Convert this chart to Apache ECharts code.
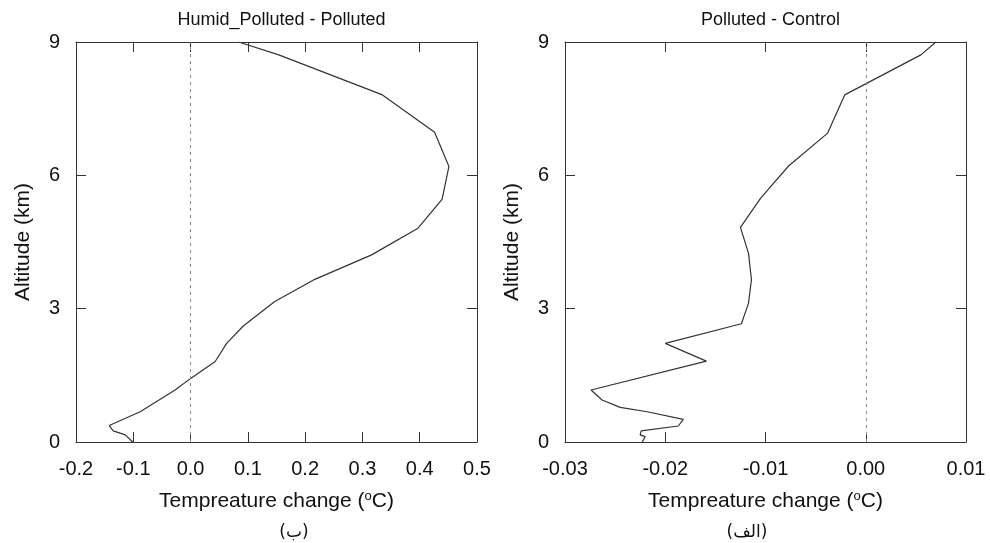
<!DOCTYPE html>
<html>
<head>
<meta charset="utf-8">
<script src="https://cdn.jsdelivr.net/npm/echarts@6/dist/echarts.min.js"></script>
<style>
  html, body { margin: 0; padding: 0; background: #fff; }
  #chart { width: 990px; height: 543px; }
</style>
</head>
<body>
<div id="chart"></div>
<script>
// left panel: Humid_Polluted - Polluted
const leftAlt = [0.0, 0.16, 0.25, 0.37, 0.68, 1.17, 1.42, 1.81, 2.22, 2.61, 3.16, 3.66, 4.21, 4.81, 5.46, 6.20, 6.97, 7.81, 8.71, 9.0];
const leftTemp = [-0.101, -0.114, -0.135, -0.142, -0.088, -0.027, -0.001, 0.043, 0.063, 0.092, 0.147, 0.217, 0.316, 0.397, 0.439, 0.451, 0.426, 0.335, 0.154, 0.084];

// right panel: Polluted - Control
const rightAlt = [0.0, 0.12, 0.16, 0.25, 0.36, 0.51, 0.68, 0.78, 0.945, 1.17, 1.82, 2.22, 2.66, 3.12, 3.65, 4.25, 4.83, 5.48, 6.21, 6.95, 7.81, 8.71, 9.0];
const rightTemp = [-0.0223, -0.0220, -0.0225, -0.0224, -0.0187, -0.0182, -0.0218, -0.0245, -0.0263, -0.0274, -0.0159, -0.0200, -0.0124, -0.0117, -0.0114, -0.0117, -0.0125, -0.0105, -0.0077, -0.0038, -0.0021, 0.0055, 0.0070];

const titles = ['Humid_Polluted - Polluted', 'Polluted - Control'];
const captions = ['(ب)', '(الف)'];

const FONT = '"Liberation Sans", Arial, sans-serif';
const AXIS_COLOR = '#333';
const TEXT_COLOR = '#111';

const chart = echarts.init(document.getElementById('chart'));

const grids = [
  { left: 76, top: 42, width: 401, height: 400 },
  { left: 565, top: 42, width: 401, height: 400 }
];

const xRanges = [
  { min: -0.2, max: 0.5, interval: 0.1, digits: 1 },
  { min: -0.03, max: 0.01, interval: 0.01, digits: 2 }
];

const axisLine = { show: true, onZero: false, lineStyle: { color: AXIS_COLOR, width: 1 } };
const axisTick = { show: true, inside: true, length: 10, lineStyle: { color: AXIS_COLOR, width: 1 } };

const xAxes = [];
const yAxes = [];
[0, 1].forEach((g) => {
  const r = xRanges[g];
  xAxes.push({
    type: 'value', gridIndex: g, position: 'bottom',
    min: r.min, max: r.max, interval: r.interval,
    axisLine, axisTick, splitLine: { show: false },
    axisLabel: {
      fontFamily: FONT, fontSize: 20, color: TEXT_COLOR, margin: 17,
      formatter: (v) => (Math.abs(v) < 1e-9 ? 0 : v).toFixed(r.digits)
    },
    name: 'Tempreature change ({sup|o}C)',
    nameLocation: 'middle', nameGap: 48,
    nameTextStyle: {
      fontFamily: FONT, fontSize: 21, color: TEXT_COLOR,
      rich: { sup: { fontFamily: FONT, fontSize: 13, color: TEXT_COLOR, verticalAlign: 'top', padding: [0, 0, 10, 0] } }
    }
  });
  xAxes.push({
    type: 'value', gridIndex: g, position: 'top',
    min: r.min, max: r.max, interval: r.interval,
    axisLine, axisTick, splitLine: { show: false }, axisLabel: { show: false }
  });
  yAxes.push({
    type: 'value', gridIndex: g, position: 'left',
    min: 0, max: 9, interval: 3,
    axisLine, axisTick, splitLine: { show: false },
    axisLabel: { fontFamily: FONT, fontSize: 20, color: TEXT_COLOR, margin: 16 },
    name: 'Altitude (km)', nameLocation: 'middle', nameGap: 42,
    nameTextStyle: { fontFamily: FONT, fontSize: 21, color: TEXT_COLOR }
  });
  yAxes.push({
    type: 'value', gridIndex: g, position: 'right',
    min: 0, max: 9, interval: 3,
    axisLine, axisTick, splitLine: { show: false }, axisLabel: { show: false }
  });
});

const zeroLine = {
  silent: true, symbol: 'none', animation: false,
  label: { show: false },
  lineStyle: { color: '#888', type: [3, 4], width: 1 },
  data: [{ xAxis: 0 }]
};

const pairs = (xs, ys) => xs.map((x, i) => [x, ys[i]]);

const option = {
  animation: false,
  backgroundColor: '#fff',
  title: titles.map((t, i) => ({
    text: t,
    left: grids[i].left + grids[i].width / 2,
    top: 6,
    textAlign: 'center',
    textStyle: { fontFamily: FONT, fontSize: 18, fontWeight: 'normal', color: TEXT_COLOR }
  })),
  grid: grids,
  xAxis: xAxes,
  yAxis: yAxes,
  series: [
    {
      type: 'line', xAxisIndex: 0, yAxisIndex: 0,
      data: pairs(leftTemp, leftAlt),
      showSymbol: false, lineStyle: { color: '#333', width: 1.2 },
      markLine: zeroLine
    },
    {
      type: 'line', xAxisIndex: 2, yAxisIndex: 2,
      data: pairs(rightTemp, rightAlt),
      showSymbol: false, lineStyle: { color: '#333', width: 1.2 },
      markLine: zeroLine
    }
  ],
  graphic: [
    { type: 'text', x: 294, y: 533, style: { text: captions[0], font: '17px "DejaVu Sans", sans-serif', fill: TEXT_COLOR, align: 'center', verticalAlign: 'middle' } },
    { type: 'text', x: 747, y: 533, style: { text: captions[1], font: '17px "DejaVu Sans", sans-serif', fill: TEXT_COLOR, align: 'center', verticalAlign: 'middle' } }
  ]
};

chart.setOption(option);
window.addEventListener('resize', () => chart.resize());
</script>
</body>
</html>
